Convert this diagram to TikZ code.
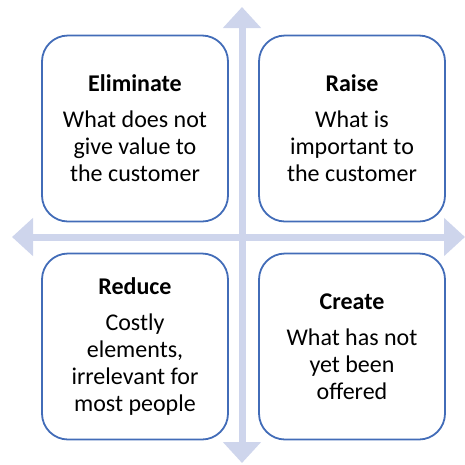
\documentclass[tikz,border=0pt]{standalone}
\usepackage{fontspec}
\setmainfont{Carlito}
\usetikzlibrary{arrows.meta}
\definecolor{boxblue}{RGB}{66,108,184}
\definecolor{axisgray}{RGB}{206,213,236}
\begin{document}
\begin{tikzpicture}
  [x=1pt,y=-1pt,
   every node/.style={draw=boxblue,line width=1.8pt,fill=white,rounded corners=26pt,
     minimum width=186pt,minimum height=186pt,align=center,
     font=\fontsize{24}{27}\selectfont},
   axis/.style={draw=axisgray,line width=7pt,{Triangle[width=37pt,length=21pt]}-{Triangle[width=37pt,length=21pt]}}]
  \useasboundingbox (0,0) rectangle (465,464);

  \coordinate (left) at (12,237);
  \coordinate (right) at (465,237);
  \coordinate (top) at (242,7);
  \coordinate (bottom) at (242,463);
  \draw[axis] (left) -- (right);
  \draw[axis] (top) -- (bottom);

  \node (elim) at (135,128.5)   {\textbf{Eliminate}\\[9pt]What does not\\give value to\\the customer};
  \node (raise) at (352,128.5)  {\textbf{Raise}\\[9pt]What is\\important to\\the customer};
  \node (reduce) at (135,346.5) {\textbf{Reduce}\\[9pt]Costly\\elements,\\irrelevant for\\most people};
  \node (create) at (352,346.5) {\textbf{Create}\\[9pt]What has not\\yet been\\offered};
\end{tikzpicture}
\end{document}
